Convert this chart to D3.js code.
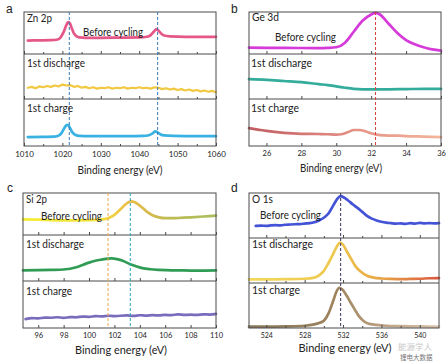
<!DOCTYPE html>
<html><head><meta charset="utf-8">
<script src="https://cdn.jsdelivr.net/npm/d3@7"></script>
<style>
body{margin:0;background:#fff}
svg{display:block}
text{font-family:Lato,'Open Sans',Arial,sans-serif;fill:#222}
</style>
</head><body><svg id="c" width="448" height="362"></svg>
<script>
// ---------- tick labels ----------
const znTicks=[1010,1020,1030,1040,1050,1060];
const znMinor=[1015,1025,1035,1045,1055];
const geTicks=[26,28,30,32,34,36];
const siTicks=[96,98,100,102,104,106,108,110];
const oTicks=[524,528,532,536,540];
const oMinor=[526,530,534,538];

// ---------- reference (dashed) energies ----------
const znRefs=[1021.8,1044.8];
const geRefs=[32.25];
const siRefs=[101.5,103.25];
const oRefs=[531.75];

// ---------- series (energy eV, intensity a.u.) ----------
const znBefore=[[1011,32],[1014,32.5],[1017,33],[1018.5,34],[1019.5,39],[1020.3,52],[1021,68],[1021.5,76],[1022,72],[1022.5,60],[1023,49],[1023.7,42],[1024.5,39.5],[1026,38.5],[1030,38.5],[1035,39],[1040,39.5],[1042,41],[1043,45],[1043.8,53],[1044.5,59],[1045,56],[1045.7,49],[1046.5,44],[1048,42],[1052,41],[1056,41],[1060,41]];
const znDischarge=[[1011,25],[1012,27],[1013,24],[1014,28],[1015,26],[1016,29],[1017,27],[1018,30],[1019,28],[1020,32],[1021,30],[1022,31],[1023,27],[1024,29],[1025,25],[1026,27],[1027,24],[1028,26],[1029,23],[1030,25],[1031,24],[1032,26],[1033,23],[1034,25],[1035,24],[1036,26],[1037,23],[1038,25],[1039,24],[1040,26],[1041,24],[1042,25],[1043,23],[1044,26],[1045,25],[1046,22],[1047,24],[1048,21],[1049,23],[1050,20],[1051,22],[1052,19],[1053,21],[1054,18],[1055,20],[1056,17],[1057,19],[1058,16],[1059,18],[1060,15]];
const znCharge=[[1011,19],[1015,19.5],[1018,20],[1019,22],[1019.8,28],[1020.5,38],[1021,44],[1021.4,45],[1022,38],[1022.6,29],[1023.3,24],[1024.5,21.5],[1027,21],[1032,21],[1037,21],[1041,21.5],[1042.5,23],[1043.5,27],[1044.2,31],[1044.8,29],[1045.5,25],[1046.5,22.5],[1049,21.5],[1055,21],[1060,21]];

const geBefore=[[25,15],[27,14.5],[29,14],[29.5,14.5],[30,16],[30.5,27],[31,53],[31.5,79],[32,94],[32.25,98],[32.5,94],[33,72],[33.5,50],[34,33],[34.5,23],[35,16],[35.5,11],[36,8]];
const geDischarge=[[25,44],[26,42.5],[27,40],[28,37.5],[29,33],[29.5,31],[30,28],[30.5,25],[31,22.5],[31.5,21.5],[32,21.5],[33,21.5],[34,22],[35,22.5],[36,22.5]];
const geCharge=[[25,38],[25.5,35],[26,32],[27,28],[28,26],[29,25.5],[29.5,25],[30,24],[30.3,25],[30.7,30],[31,34],[31.3,34],[31.7,31],[32,27],[32.5,23],[33,22],[33.5,22],[34,21],[35,20],[36,19]];

const siBefore=[[94.8,37],[96,36.5],[97,35.5],[98,35],[99,35],[100,35.5],[100.5,36],[101,37],[101.5,40],[102,48],[102.5,62],[103,76],[103.3,80],[103.6,78],[104,70],[104.5,57],[105,47],[105.5,42],[106,40],[106.5,40],[107,40.5],[108,42],[109,44],[110,46]];
const siDischarge=[[94.8,23],[96,23.5],[97,24],[98,25],[99,30],[99.5,35],[100,40],[100.5,44],[101,46.5],[101.5,48.5],[101.8,49],[102.2,47.5],[102.7,43.5],[103.2,37],[103.7,32],[104.2,28],[104.8,25.5],[105.5,24],[106.5,23],[107.5,23],[108.5,22.5],[110,23]];
const siCharge=[[95,19],[95.5,22],[96,19.5],[96.5,23],[97,21],[97.5,24],[98,20.5],[98.5,24],[99,22],[99.5,25],[100,23],[100.5,26],[101,24],[101.5,27],[102,24.5],[102.5,26],[103,27.5],[103.5,25],[104,28],[104.5,25.5],[105,28],[105.5,26],[106,28.5],[106.5,26.5],[107,30],[107.5,27],[108,29],[108.5,27],[109,30],[109.5,28],[110,30]];

const oBefore=[[522.9,27],[523.5,27.5],[524,27],[524.5,28],[525,28.5],[525.5,28],[526,29.5],[526.5,30],[527,30.5],[527.5,31],[528,32],[528.5,33],[529,35],[529.5,39],[530,45],[530.5,55],[531,73],[531.4,87],[531.75,93],[532.1,90],[532.5,84],[533,75],[533.5,67],[534,58],[534.5,49],[535,43],[535.5,39],[536,36],[536.5,34],[537,33],[537.5,32],[538,32.5],[538.5,31.5],[539,33],[539.5,32],[540,33.5],[540.5,32.5],[541,33],[541.5,32.5],[542,33]];
const oDischarge=[[522.2,8],[524,8],[526,8.5],[528,9.5],[529,12],[529.5,17],[530,27],[530.5,45],[531,66],[531.4,83],[531.7,90],[532,85],[532.4,70],[532.8,55],[533.3,37],[533.8,26],[534.5,16],[535.2,12],[536,10],[537,9],[538,8.5],[539,9],[540,9.5],[541,10.5],[542,11]];
const oCharge=[[522.2,3],[524,3],[526,3.5],[528,5],[529,8],[529.5,11],[530,16],[530.5,33],[531,62],[531.3,80],[531.6,89],[531.9,86],[532.4,71],[532.8,56],[533.2,42],[533.6,28],[534.1,16],[534.6,10],[535.5,7],[536.5,5],[538,4],[540,3.5],[542,3]];

const rowLabels=["Before cycling","1st discharge","1st charge"];
const axisTitle="Binding energy (eV)";

// ---------- layout ----------
const svg=d3.select("#c");
const defs=svg.append("defs");

const panels=[
 {id:"a",title:"Zn 2p",dom:[1010,1060],x0:24,x1:216,rows:[12,54,99,146],ticks:znTicks,minor:znMinor,refs:znRefs,
  refColor:["#3b7bb5","#3b7bb5"],
  series:[{d:znBefore,c:"#e2457b",curve:"m"},{d:znDischarge,c:"#efc22c",curve:"l",w:2.2},{d:znCharge,c:"#24a9df",curve:"m"}],
  letter:[6,13],lbl:[[27,18],[83,32],[27,63],[27,108]],lw:[25,60,58,46],tickPad:5,tickFs:8,titleY:170,titleX:120,titleW:85},
 {id:"b",title:"Ge 3d",dom:[25,36],x0:249,x1:441,rows:[12,54,99,146],ticks:geTicks,minor:[],refs:geRefs,
  refColor:["#d83a3a"],
  series:[{d:geBefore,c:"#d226d6",curve:"m"},{d:geDischarge,c:"#1ea391",curve:"m"},{d:geCharge,c:[[0,"#b84a4f"],[0.5,"#e08077"],[1,"#f2ad8c"]],curve:"m"}],
  letter:[231,13],lbl:[[252,17],[275,37],[251,63],[251,108]],lw:[27,61,61,48],tickPad:5,tickFs:7.5,titleY:168,titleX:341,titleW:82},
 {id:"c",title:"Si 2p",dom:[94.8,110],x0:23,x1:216,rows:[193,235,281,328],ticks:siTicks,minor:[],refs:siRefs,
  refColor:["#f0a848","#2aa6b6"],
  series:[{d:siBefore,c:[[0,"#f4ec1e"],[0.4,"#f0dc2a"],[0.55,"#e8b432"],[0.75,"#b8b440"],[1,"#a0b64a"]],curve:"m"},{d:siDischarge,c:"#1b9142",curve:"m"},{d:siCharge,c:"#6a5cb6",curve:"b"}],
  letter:[7,192],lbl:[[26,199],[41,216],[26,244],[26,291]],lw:[21,61,58,46],tickPad:5,tickFs:7.5,titleY:350,titleX:121,titleW:92},
 {id:"d",title:"O 1s",dom:[522.2,542],x0:249,x1:439,rows:[193,238,283,328],ticks:oTicks,minor:oMinor,refs:oRefs,
  refColor:["#34345e"],
  series:[{d:oBefore,c:"#3040d2",curve:"m"},{d:oDischarge,c:[[0,"#f2d44a"],[0.45,"#ecc23a"],[0.7,"#e49a32"],[1,"#d6452c"]],curve:"m"},{d:oCharge,c:[[0,"#7a6848"],[0.45,"#93754a"],[1,"#d8bea6"]],curve:"m"}],
  letter:[231,192],lbl:[[252,199],[260,215],[252,244],[252,290]],lw:[21,61,61,48],tickPad:5,tickFs:7,titleY:348,titleX:345,titleW:93}
];

panels.forEach(p=>{
  const g=svg.append("g");
  const x=d3.scaleLinear().domain(p.dom).range([p.x0,p.x1]);
  const [t0,t1,t2,t3]=p.rows;

  // curves
  p.series.forEach((s,i)=>{
    const y=d3.scaleLinear().domain([0,100]).range([p.rows[i+1],p.rows[i]]);
    const curve=s.curve==="l"?d3.curveLinear:(s.curve==="b"?d3.curveBasis:d3.curveMonotoneX);
    const line=d3.line().x(d=>x(d[0])).y(d=>y(d[1])).curve(curve);
    let stroke=s.c;
    if(Array.isArray(s.c)){
      const gid=`grad-${p.id}-${i}`;
      const lg=defs.append("linearGradient").attr("id",gid).attr("gradientUnits","userSpaceOnUse")
        .attr("x1",p.x0).attr("x2",p.x1).attr("y1",0).attr("y2",0);
      s.c.forEach(st=>lg.append("stop").attr("offset",st[0]).attr("stop-color",st[1]));
      stroke=`url(#${gid})`;
    }
    g.append("path").datum(s.d).attr("d",line).attr("fill","none").attr("stroke",stroke)
      .attr("stroke-width",s.w||2.7).attr("stroke-linejoin","round").attr("stroke-linecap","round")
      .attr("opacity",0.9);
  });

  // frame
  g.append("rect").attr("x",p.x0).attr("y",t0).attr("width",p.x1-p.x0).attr("height",t3-t0)
    .attr("fill","none").attr("stroke","#4a4a4a").attr("stroke-width",1);
  [t1,t2].forEach(yy=>g.append("line").attr("x1",p.x0).attr("x2",p.x1).attr("y1",yy).attr("y2",yy)
    .attr("stroke","#4a4a4a").attr("stroke-width",1));

  // ticks on dividers and bottom axis (pointing up)
  [t1,t2,t3].forEach((yy,i)=>{
    const ax=d3.axisBottom(x).tickValues(p.ticks).tickSize(-3).tickPadding(p.tickPad)
      .tickFormat(i===2?d3.format("d"):"");
    const ag=g.append("g").attr("transform",`translate(0,${yy})`).call(ax);
    ag.select(".domain").remove();
    ag.selectAll("line").attr("stroke","#4a4a4a");
    ag.selectAll("text").attr("font-size",p.tickFs).attr("fill","#333")
      .style("font-family","Lato,'Open Sans',Arial,sans-serif");
    if(p.minor.length){
      const am=d3.axisBottom(x).tickValues(p.minor).tickSize(-2).tickFormat("");
      const mg=g.append("g").attr("transform",`translate(0,${yy})`).call(am);
      mg.select(".domain").remove();
      mg.selectAll("line").attr("stroke","#4a4a4a");
    }
  });

  // dashed reference lines
  p.refs.forEach((r,k)=>{
    g.append("line").attr("x1",x(r)).attr("x2",x(r)).attr("y1",t0).attr("y2",t3)
      .attr("stroke",p.refColor[k]).attr("stroke-width",1).attr("stroke-dasharray","3,2");
  });

  // labels
  g.append("text").attr("x",p.letter[0]).attr("y",p.letter[1]).attr("font-size",12)
    .style("font-family","Arial,'Liberation Sans',sans-serif").text(p.id);
  const texts=[p.title].concat(rowLabels);
  texts.forEach((tx,k)=>{
    g.append("text").attr("x",p.lbl[k][0]).attr("y",p.lbl[k][1]).attr("dy","0.35em")
      .attr("font-size",k===1?10.5:11.5)
      .attr("textLength",p.lw[k]).attr("lengthAdjust","spacingAndGlyphs").text(tx);
  });
  g.append("text").attr("x",p.titleX-p.titleW/2).attr("y",p.titleY).attr("dy","0.35em")
    .attr("font-size",12).attr("textLength",p.titleW).attr("lengthAdjust","spacingAndGlyphs").text(axisTitle);
});

// watermark
svg.append("text").attr("x",398).attr("y",347.5).attr("dy","0.35em").attr("font-size",8.5)
  .style("font-family","'Noto Sans CJK SC',sans-serif").style("fill","#c8c8c8").text("能源学人");
svg.append("text").attr("x",400).attr("y",358).attr("dy","0.35em").attr("font-size",6.5)
  .style("font-family","'Noto Sans CJK SC',sans-serif").style("fill","#777").text("锂电大数据");
</script>
</body></html>
